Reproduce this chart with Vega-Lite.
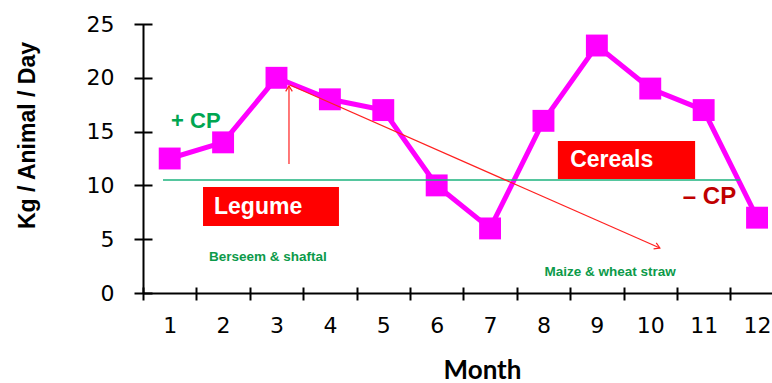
{
"$schema": "https://vega.github.io/schema/vega-lite/v6.json",
"width": 629, "height": 269,
"autosize": {"type": "none"},
"padding": {"left": 143, "top": 24, "right": 0, "bottom": 90},
"background": "white",
"config": {"view": {"stroke": null}, "font": "Liberation Sans"},
"datasets": {
"series": [
{"month": 1, "value": 12.5}, {"month": 2, "value": 14}, {"month": 3, "value": 20}, {"month": 4, "value": 18},
{"month": 5, "value": 17}, {"month": 6, "value": 10}, {"month": 7, "value": 6}, {"month": 8, "value": 16},
{"month": 9, "value": 23}, {"month": 10, "value": 19}, {"month": 11, "value": 17}, {"month": 12, "value": 7}
],
"hline": [{"x": 0.875, "x2": 11.68, "y": 10.5}],
"arrows": [{"x": 3.234, "y": 11.99, "x2": 3.234, "y2": 19.24}, {"x": 3.253, "y": 19.33, "x2": 10.18, "y2": 4.18}],
"headUp": [{"x": 3.234, "y": 19.24}],
"headDiag": [{"x": 10.18, "y": 4.18}],
"boxes": [{"x": 1.624, "x2": 4.17, "y": 9.85, "y2": 6.23}, {"x": 8.27, "x2": 10.84, "y": 14.13, "y2": 10.59}],
"boxText": [{"x": 1.83, "y": 8.0, "label": "Legume"}, {"x": 8.5, "y": 12.36, "label": "Cereals"}],
"plusCP": [{"x": 1.49, "y": 15.94, "label": "+ CP"}],
"minusCP": [{"x": 11.11, "y": 8.92, "label": "– CP"}],
"feeds": [{"x": 2.84, "y": 3.35, "label": "Berseem & shaftal"}, {"x": 9.25, "y": 1.95, "label": "Maize & wheat straw"}]
},
"layer": [
{
"data": {"name": "series"},
"mark": {"type": "line", "color": "#FF00FF", "strokeWidth": 5},
"encoding": {
"x": {"field": "month", "type": "quantitative", "scale": {"domain": [0.5, 12.28], "nice": false, "zero": false},
"axis": {"orient": "bottom", "values": [1,2,3,4,5,6,7,8,9,10,11,12], "ticks": false, "domain": true, "domainColor": "black", "domainWidth": 2, "grid": false,
"labelFont": "DejaVu Sans", "labelFontSize": 22, "labelColor": "black", "labelPadding": 22, "labelFlush": false,
"title": "Month", "titleFont": "Lato", "titleFontSize": 26, "titleFontWeight": "bold", "titleColor": "black",
"titleX": 339, "titleY": 77, "titleBaseline": "middle", "titleAlign": "center"}},
"y": {"field": "value", "type": "quantitative", "scale": {"domain": [0, 25], "nice": false},
"axis": {"orient": "left", "values": [0,5,10,15,20,25], "ticks": false, "domain": true, "domainColor": "black", "domainWidth": 2, "grid": false,
"labelFont": "DejaVu Sans", "labelFontSize": 22, "labelColor": "black", "labelPadding": 29,
"title": "Kg / Animal / Day", "titleFontSize": 23, "titleFontWeight": "bold", "titleColor": "black",
"titleX": -116, "titleY": 111, "titleBaseline": "middle", "titleAlign": "center", "titleAngle": -90}}
}
},
{
"data": {"name": "series"},
"mark": {"type": "point", "shape": "square", "filled": true, "color": "#FF00FF", "size": 480, "opacity": 1},
"encoding": {
"x": {"field": "month", "type": "quantitative",
"axis": {"orient": "bottom", "values": [0.5,1.5,2.5,3.5,4.5,5.5,6.5,7.5,8.5,9.5,10.5,11.5], "labels": false, "domain": false, "ticks": true, "tickSize": 13, "tickWidth": 2, "tickColor": "black", "offset": -6, "grid": false, "title": null}},
"y": {"field": "value", "type": "quantitative",
"axis": {"orient": "left", "values": [0,5,10,15,20,25], "labels": false, "domain": false, "ticks": true, "tickSize": 18, "tickWidth": 2, "tickColor": "black", "offset": -9, "grid": false, "title": null}}
}
},
{
"data": {"name": "hline"},
"mark": {"type": "rule", "color": "#1DB37E", "strokeWidth": 1.5},
"encoding": {"x": {"field": "x", "type": "quantitative", "axis": null}, "x2": {"field": "x2"}, "y": {"field": "y", "type": "quantitative", "axis": null}}
},
{
"data": {"name": "arrows"},
"mark": {"type": "rule", "color": "#FF2020", "strokeWidth": 1.2},
"encoding": {"x": {"field": "x", "type": "quantitative", "axis": null}, "x2": {"field": "x2"}, "y": {"field": "y", "type": "quantitative", "axis": null}, "y2": {"field": "y2"}}
},
{
"data": {"name": "headUp"},
"mark": {"type": "point", "shape": "M-0.55,0.9L0,0L0.55,0.9", "filled": false, "stroke": "#FF2020", "strokeWidth": 1.2, "size": 144, "opacity": 1},
"encoding": {"x": {"field": "x", "type": "quantitative", "axis": null}, "y": {"field": "y", "type": "quantitative", "axis": null}}
},
{
"data": {"name": "headDiag"},
"mark": {"type": "point", "shape": "M-0.55,0.9L0,0L0.55,0.9", "filled": false, "stroke": "#FF2020", "strokeWidth": 1.2, "size": 144, "angle": 113.8, "opacity": 1},
"encoding": {"x": {"field": "x", "type": "quantitative", "axis": null}, "y": {"field": "y", "type": "quantitative", "axis": null}}
},
{
"data": {"name": "boxes"},
"mark": {"type": "rect", "color": "#FF0000"},
"encoding": {"x": {"field": "x", "type": "quantitative", "axis": null}, "x2": {"field": "x2"}, "y": {"field": "y", "type": "quantitative", "axis": null}, "y2": {"field": "y2"}}
},
{
"data": {"name": "boxText"},
"mark": {"type": "text", "color": "white", "font": "Liberation Sans", "fontWeight": "bold", "fontSize": 23, "align": "left", "baseline": "middle"},
"encoding": {"x": {"field": "x", "type": "quantitative", "axis": null}, "y": {"field": "y", "type": "quantitative", "axis": null}, "text": {"field": "label"}}
},
{
"data": {"name": "plusCP"},
"mark": {"type": "text", "color": "#00A651", "font": "Liberation Sans", "fontWeight": "bold", "fontSize": 22, "align": "center", "baseline": "middle"},
"encoding": {"x": {"field": "x", "type": "quantitative", "axis": null}, "y": {"field": "y", "type": "quantitative", "axis": null}, "text": {"field": "label"}}
},
{
"data": {"name": "minusCP"},
"mark": {"type": "text", "color": "#C00000", "font": "Liberation Sans", "fontWeight": "bold", "fontSize": 24, "align": "center", "baseline": "middle"},
"encoding": {"x": {"field": "x", "type": "quantitative", "axis": null}, "y": {"field": "y", "type": "quantitative", "axis": null}, "text": {"field": "label"}}
},
{
"data": {"name": "feeds"},
"mark": {"type": "text", "color": "#0C9A4A", "font": "Liberation Sans", "fontWeight": "bold", "fontSize": 13.5, "align": "center", "baseline": "middle"},
"encoding": {"x": {"field": "x", "type": "quantitative", "axis": null}, "y": {"field": "y", "type": "quantitative", "axis": null}, "text": {"field": "label"}}
}
],
"resolve": {"axis": {"x": "independent", "y": "independent"}}
}
